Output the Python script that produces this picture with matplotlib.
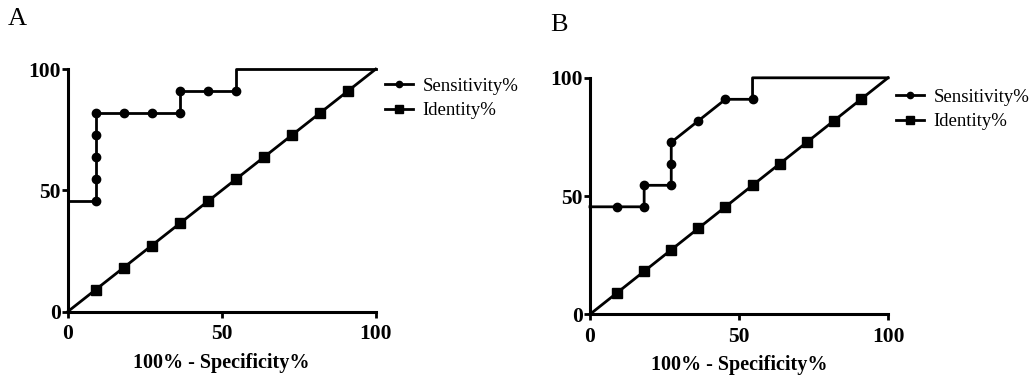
#!/usr/bin/env python3

import matplotlib
matplotlib.use('Agg')
import matplotlib.pyplot as plt

plt.rcParams['font.family'] = ['Liberation Serif', 'DejaVu Serif']

# ROC data, steps of 100/11
step = 100.0 / 11

# panel A sensitivity curve (x, y in units of step)
a_sens_x = [0, 1, 1, 1, 1, 1, 2, 3, 4, 4, 5, 6, 6, 11]
a_sens_y = [5, 5, 6, 7, 8, 9, 9, 9, 9, 10, 10, 10, 11, 11]
a_marked = [False, True, True, True, True, True, True, True, True, True,
            True, True, False, False]

# panel B sensitivity curve
b_sens_x = [0, 1, 2, 2, 3, 3, 3, 4, 5, 6, 6, 11]
b_sens_y = [5, 5, 5, 6, 6, 7, 8, 9, 10, 10, 11, 11]
b_marked = [False, True, True, True, True, True, True, True, True, True,
            False, False]

# identity line
ident = list(range(0, 12))
ident_marked = [False] + [True] * 10 + [False]

panels = [
    ('A', a_sens_x, a_sens_y, a_marked),
    ('B', b_sens_x, b_sens_y, b_marked),
]

ax_rects = [
    [0.0654, 0.1776, 0.2976, 0.640],
    [0.5700, 0.1707, 0.2880, 0.624],
]
legend_pos = [(0.372, 0.795), (0.866, 0.766)]
letter_pos = [(0.007, 0.978), (0.532, 0.962)]


def draw_panel(fig, rect, name, sx, sy, marked, leg_xy, letter_xy):
    ax = fig.add_axes(rect)
    xs = [v * step for v in sx]
    ys = [v * step for v in sy]
    mk = [i for i, m in enumerate(marked) if m]
    ax.plot(xs, ys, color='black', lw=2, marker='o', ms=6,
            markevery=mk, label='Sensitivity%', clip_on=False)
    ix = [v * step for v in ident]
    mk2 = [i for i, m in enumerate(ident_marked) if m]
    ax.plot(ix, ix, color='black', lw=2, marker='s', ms=7,
            markevery=mk2, label='Identity%', clip_on=False)

    ax.set_xlim(0, 100)
    ax.set_ylim(0, 100)
    ax.set_xticks([0, 50, 100])
    ax.set_yticks([0, 50, 100])
    for s in ['top', 'right']:
        ax.spines[s].set_visible(False)
    for s in ['left', 'bottom']:
        ax.spines[s].set_linewidth(2.2)
    ax.tick_params(direction='out', length=4, width=2, labelsize=15.5)
    ax.tick_params(axis='x', pad=5)
    ax.tick_params(axis='y', pad=1)
    for lab in ax.get_xticklabels() + ax.get_yticklabels():
        lab.set_fontweight('bold')
    ax.set_xlabel('100% - Specificity%', fontsize=14.5, fontweight='bold',
                  labelpad=6)

    fig.legend(handles=ax.get_lines(), loc='upper left',
               bbox_to_anchor=leg_xy, frameon=False, fontsize=13.5,
               handlelength=1.5, handletextpad=0.5, labelspacing=0.4,
               markerscale=0.75, borderaxespad=0, borderpad=0)
    fig.text(letter_xy[0], letter_xy[1], name, fontsize=19, va='top')
    return ax


fig = plt.figure(figsize=(10.35, 3.79), dpi=100)
for (name, sx, sy, marked), rect, lp, tp in zip(panels, ax_rects,
                                                legend_pos, letter_pos):
    draw_panel(fig, rect, name, sx, sy, marked, lp, tp)

fig.savefig('out.png', dpi=100)
